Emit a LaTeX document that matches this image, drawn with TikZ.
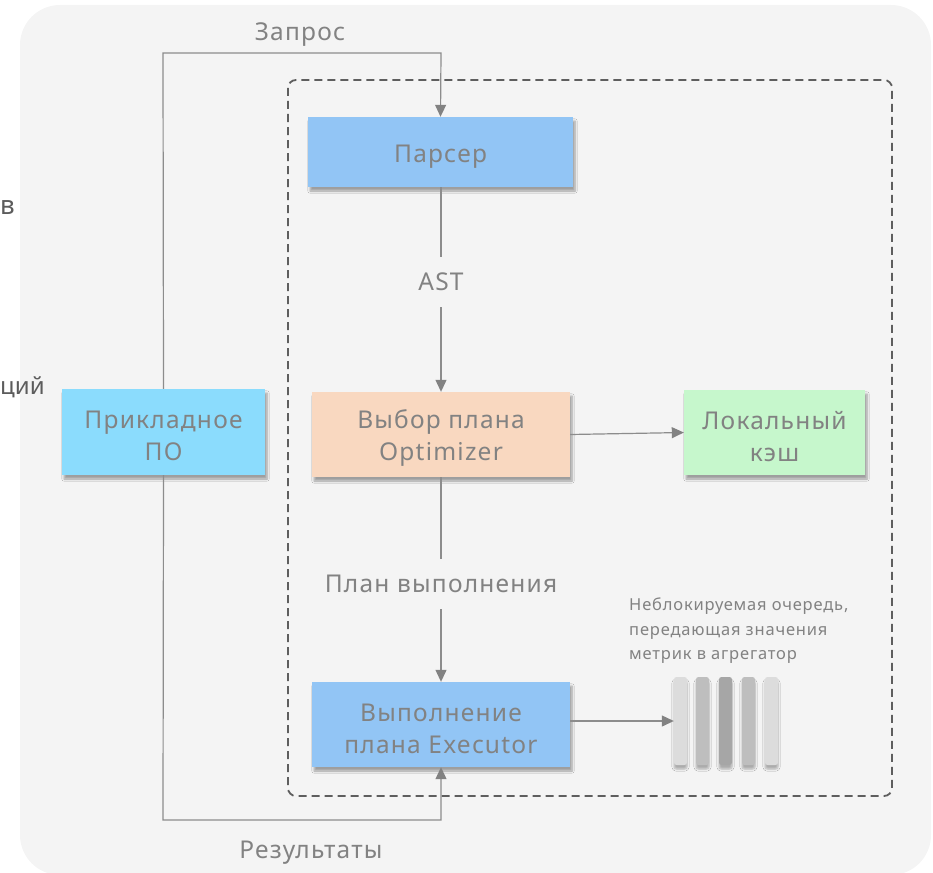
\documentclass[tikz,border=0pt]{standalone}
\usepackage{fontspec}
\setmainfont{Noto Sans}[LetterSpace=5]
\usetikzlibrary{arrows.meta,shadows.blur,positioning}
\definecolor{bgc}{HTML}{F4F4F4}
\definecolor{txt}{HTML}{828282}
\definecolor{lnc}{HTML}{8C8C8C}
\definecolor{dsh}{HTML}{5E5E5E}
\definecolor{blu}{HTML}{92C5F5}
\definecolor{pch}{HTML}{F9D8C0}
\definecolor{grn}{HTML}{C6F7CC}
\definecolor{cyn}{HTML}{8BDCFD}
\definecolor{qa}{HTML}{DCDCDC}
\definecolor{qb}{HTML}{BEBEBE}
\definecolor{qc}{HTML}{A6A6A6}
\begin{document}
\begin{tikzpicture}[x=1pt,y=-1pt,
  box/.style={draw=none,inner sep=0pt,
    blur shadow={shadow xshift=2pt,shadow yshift=-4pt,shadow blur steps=6,shadow opacity=35}},
  btxt/.style={inner sep=0pt,align=center,text=txt,font=\fontsize{24.5}{32}\selectfont},
  lbl/.style={inner sep=0pt,text=txt,font=\fontsize{24.5}{30}\selectfont},
  conn/.style={draw=lnc,line width=1.2pt},
  arr/.style={conn,-{Triangle[length=12pt,width=11pt,color=txt]}},
  bar/.style={rounded corners=2.5pt,minimum width=13pt,minimum height=88pt,inner sep=0pt,
    blur shadow={shadow xshift=0pt,shadow yshift=-4pt,shadow blur steps=5,shadow opacity=30}}]
\useasboundingbox (0,0) rectangle (933,872);
\fill[bgc,rounded corners=40pt] (20,5) rectangle (931,875);
% fragments at left edge
\node[anchor=west,inner sep=0pt,text=black!64,font=\fontsize{26}{30}\selectfont\addfontfeature{LetterSpace=0}] (fa) at (0,208) {в};
\node[anchor=west,inner sep=0pt,text=black!64,font=\fontsize{24}{30}\selectfont\addfontfeature{LetterSpace=0}] (fb) at (0,387) {ций};
% dashed frame
\draw[dsh,line width=1.8pt,dash pattern=on 8pt off 5pt,rounded corners=8pt] (288,80) rectangle (892,796);
% boxes
\node[box,fill=blu,minimum width=265pt,minimum height=70pt] (parser) at (440.5,152) {};
\node[box,fill=pch,minimum width=258pt,minimum height=85pt] (opt) at (441,434.5) {};
\node[box,fill=grn,minimum width=181pt,minimum height=85pt] (cache) at (774.5,432.5) {};
\node[box,fill=blu,minimum width=258pt,minimum height=85pt] (exec) at (441,724.5) {};
\node[box,fill=cyn,minimum width=203pt,minimum height=86pt] (app) at (163.5,432) {};
\node[btxt] (parsert) at ([yshift=-5pt]parser.center) {Парсер};
\node[btxt] (optt) at ([yshift=-3.5pt]opt.center) {Выбор плана\\Optimizer};
\node[btxt] (cachet) at ([yshift=-4pt]cache.center) {Локальный\\кэш};
\node[btxt] (exect) at ([yshift=-4pt]exec.center) {Выполнение\\плана Executor};
\node[btxt] (appt) at ([yshift=-3.5pt]app.center) {Прикладное\\ПО};
% labels
\node[lbl] (zap) at (300,35) {Запрос};
\node[lbl,minimum height=50pt] (ast) at (441,282) {AST};
\node[lbl,minimum height=50pt] (plan) at (441,584) {План выполнения};
\node[lbl] (res) at (311,853) {Результаты};
% queue
\node[bar,fill=qa] (q1) at (680.5,721) {};
\node[bar,fill=qb] (q2) at (702.5,721) {};
\node[bar,fill=qc] (q3) at (725.5,721) {};
\node[bar,fill=qb] (q4) at (748.5,721) {};
\node[bar,fill=qa] (q5) at (771.5,721) {};
\node[anchor=north west,inner sep=0pt,align=left,text=txt,font=\fontsize{16.5}{24.5}\selectfont] (qlbl) at (629,598)
  {Неблокируемая очередь,\\передающая значения\\метрик в агрегатор};
% connectors
\coordinate (c1) at (163,53);
\coordinate (c2) at (441,53);
\coordinate (c3) at (163,820);
\coordinate (c4) at (441,820);
\draw[arr] (app.north) -- (c1) -- (c2) -- (parser.north);
\draw[arr] (app.south) -- (c3) -- (c4) -- (exec.south);
\draw[conn] (parser.south -| ast) -- (ast.north);
\draw[arr] (ast.south) -- (opt.north -| ast);
\draw[conn] (opt.south -| plan) -- (plan.north);
\draw[arr] (plan.south) -- (exec.north -| plan);
\draw[arr] (opt.east) -- (cache.west);
\draw[arr] (exec.east |- q1) -- (q1.west);
\end{tikzpicture}
\end{document}
